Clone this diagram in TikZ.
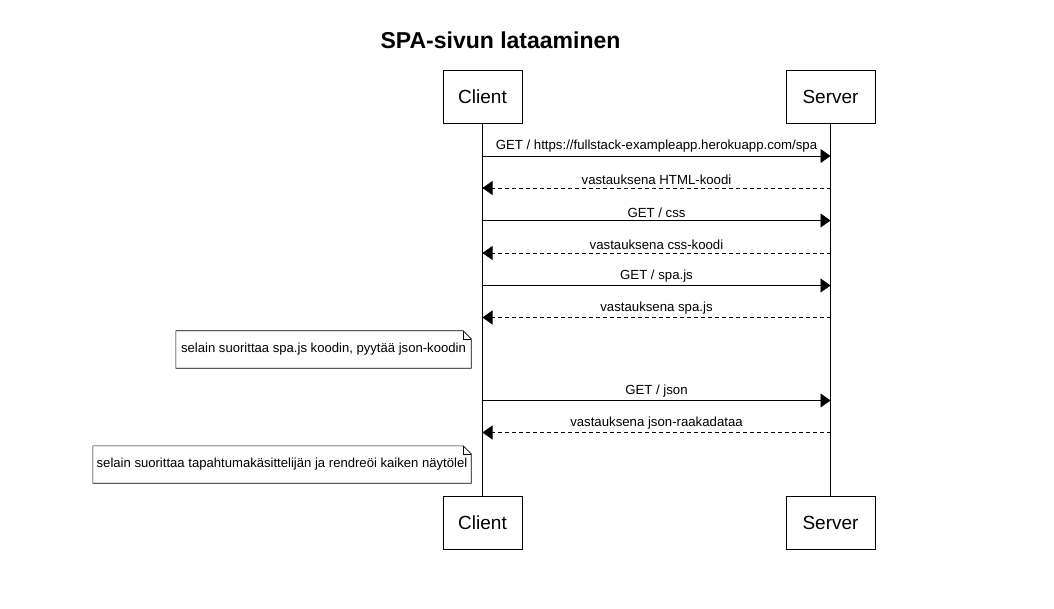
\documentclass[tikz,border=0pt]{standalone}
\usepackage{fontspec}
\setmainfont{Liberation Sans}
\usetikzlibrary{positioning,arrows.meta}

\begin{document}
\begin{tikzpicture}[x=1pt,y=-1pt,
  osallinen/.style={draw, fill=white, minimum width=#1, minimum height=53pt,
    inner sep=0pt, font=\fontsize{19}{21}\selectfont},
  viesti/.style={-{Triangle[length=10pt,width=14pt]}, line width=0.6pt},
  vastaus/.style={viesti, dash pattern=on 4pt off 3pt},
  teksti/.style={font=\fontsize{13.2}{15}\selectfont, inner sep=0pt, above=3pt},
  muistio/.style={inner sep=0pt, minimum height=37pt, align=left,
    font=\fontsize{13.1}{15}\selectfont}
]
\useasboundingbox (0,0) rectangle (1054,609);
\node[font=\fontsize{23}{26}\selectfont\bfseries] (otsikko) at (500.5,40)
  {SPA-sivun lataaminen};

% osallistujat
\node[osallinen=79pt] (c1) at (482.5,97) {Client};
\node[osallinen=89pt] (s1) at (830.5,97) {Server};
\node[osallinen=79pt] (c2) at (482.5,522.5) {Client};
\node[osallinen=89pt] (s2) at (830.5,522.5) {Server};
\draw[line width=0.6pt] (c1) -- (c2);
\draw[line width=0.6pt] (s1) -- (s2);

% viestit
\draw[viesti] (c1.south |- 0,156) -- (s1.south |- 0,156)
  node[teksti, midway] {GET / https://fullstack-exampleapp.herokuapp.com/spa};
\draw[vastaus] (s1.south |- 0,188) -- (c1.south |- 0,188)
  node[teksti, midway] {vastauksena HTML-koodi};
\draw[viesti] (c1.south |- 0,220.5) -- (s1.south |- 0,220.5)
  node[teksti, midway] {GET / css};
\draw[vastaus] (s1.south |- 0,253) -- (c1.south |- 0,253)
  node[teksti, midway] {vastauksena css-koodi};
\draw[viesti] (c1.south |- 0,285.5) -- (s1.south |- 0,285.5)
  node[teksti, midway] {GET / spa.js};
\draw[vastaus] (s1.south |- 0,317.5) -- (c1.south |- 0,317.5)
  node[teksti, midway] {vastauksena spa.js};

% muistio 1
\node[muistio, minimum width=295pt] (m1) at (323.5,349.5)
  {selain suorittaa spa.js koodin, pyytää json-koodin};
\draw[line width=0.6pt] (m1.north west) -- ([xshift=-8pt]m1.north east)
  -- ([yshift=-8pt]m1.north east) -- (m1.south east) -- (m1.south west) -- cycle;
\draw[line width=0.6pt] ([xshift=-8pt]m1.north east) |- ([yshift=-8pt]m1.north east);

\draw[viesti] (c1.south |- 0,400.5) -- (s1.south |- 0,400.5)
  node[teksti, midway] {GET / json};
\draw[vastaus] (s1.south |- 0,432.5) -- (c1.south |- 0,432.5)
  node[teksti, midway] {vastauksena json-raakadataa};

% muistio 2
\node[muistio, minimum width=378pt] (m2) at (282,464.5)
  {selain suorittaa tapahtumakäsittelijän ja rendreöi kaiken näytölel};
\draw[line width=0.6pt] (m2.north west) -- ([xshift=-8pt]m2.north east)
  -- ([yshift=-8pt]m2.north east) -- (m2.south east) -- (m2.south west) -- cycle;
\draw[line width=0.6pt] ([xshift=-8pt]m2.north east) |- ([yshift=-8pt]m2.north east);
\end{tikzpicture}
\end{document}
